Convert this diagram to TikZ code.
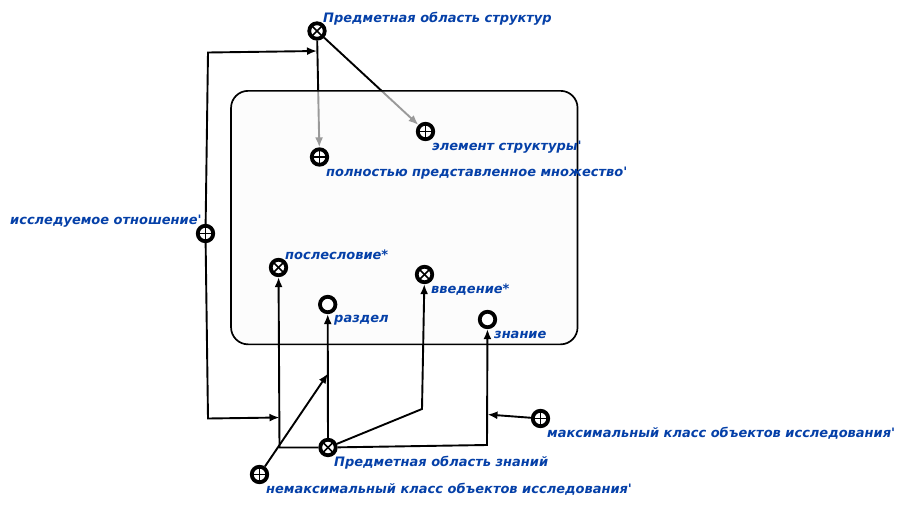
\documentclass[tikz,border=0pt]{standalone}
\usepackage{fontspec}
\setmainfont{DejaVu Sans}[Ligatures=TeXOff]
\usepackage{xcolor}
\usepackage{tikz}
\usetikzlibrary{arrows.meta}
\definecolor{labelblue}{HTML}{0540A8}
\pgfdeclarelayer{behind}
\pgfdeclarelayer{boxlayer}
\pgfsetlayers{behind,boxlayer,main}
\tikzset{
	arc line/.style={line width=1.9pt, -{Latex[length=10pt,width=8pt]}},
	region/.style={draw=black, line width=1.7pt, rounded corners=17pt, minimum width=346.5pt, minimum height=253.5pt, inner sep=0pt, fill=black!2, fill opacity=.62, draw opacity=1},
	vertex/.style={circle, draw=black, fill=white, line width=3.8pt, minimum size=15.5pt, inner sep=0pt},
	vplus/.style={vertex, path picture={
		\draw[line width=1.5pt] (path picture bounding box.north) -- (path picture bounding box.south);
		\draw[line width=1.5pt] (path picture bounding box.west) -- (path picture bounding box.east);}},
	vcross/.style={vertex, path picture={
		\draw[line width=1.6pt] (path picture bounding box.north west) -- (path picture bounding box.south east);
		\draw[line width=1.6pt] (path picture bounding box.north east) -- (path picture bounding box.south west);}},
	caption/.style={anchor=west, inner sep=0pt, text=labelblue, font=\fontsize{13pt}{15pt}\selectfont\bfseries\itshape}
}
\begin{document}
\begin{tikzpicture}[x=1pt,y=-1pt]
	\useasboundingbox (0,0) rectangle (903,506);
	% vertices
	\node[vcross] (structdomain) at (317,31) {};
	\node[vplus] (structelem) at (425.5,131.5) {};
	\node[vplus] (fullset) at (319.5,157) {};
	\node[vplus] (studiedrel) at (205.5,233.5) {};
	\node[vcross] (afterword) at (278.5,267.5) {};
	\node[vcross] (intro) at (424.5,274.5) {};
	\node[vertex] (section) at (327.7,304.5) {};
	\node[vertex] (knowledge) at (487.5,319.5) {};
	\node[vplus] (maxclass) at (540.5,418.5) {};
	\node[vcross] (knowdomain) at (328,447.5) {};
	\node[vplus] (nonmaxclass) at (259.5,474.5) {};
	% captions
	\node[caption] (structdomaintext) at (323,18.8) {Предметная область структур};
	\node[caption] (structelemtext) at (432,146.8) {элемент структуры'};
	\node[caption] (fullsettext) at (326,172.8) {полностью представленное множество'};
	\node[caption] (studiedreltext) at (10,220.8) {исследуемое отношение'};
	\node[caption] (afterwordtext) at (285,254.5) {послесловие*};
	\node[caption] (introtext) at (431,289.8) {введение*};
	\node[caption] (sectiontext) at (334,319.8) {раздел};
	\node[caption] (knowledgetext) at (494,334.5) {знание};
	\node[caption] (maxclasstext) at (547,433.5) {максимальный класс объектов исследования'};
	\node[caption] (knowdomaintext) at (334,462.8) {Предметная область знаний};
	\node[caption] (nonmaxclasstext) at (266,489.5) {немаксимальный класс объектов исследования'};
	% box over the two upper arcs
	\begin{pgfonlayer}{boxlayer}
		\node[region] (regionbox) at (404.3,217.6) {};
	\end{pgfonlayer}
	\begin{pgfonlayer}{behind}
		\draw[arc line] (structdomain) -- (fullset);
		\draw[arc line] (structdomain) -- (structelem);
	\end{pgfonlayer}
	% arcs
	\coordinate (upperbend) at (208,52.5);
	\coordinate (upperend) at (317,51);
	\coordinate (lowerbend) at (208,418.5);
	\coordinate (busleft) at (279.5,447.5);
	\coordinate (lowerend) at (279.5,417.5);
	\coordinate (sectionjoin) at (328,373.5);
	\coordinate (introbend) at (422,409);
	\coordinate (knowbend) at (487,445);
	\coordinate (knowjoin) at (487.5,414.5);
	\draw[arc line] (studiedrel) -- (upperbend) -- (upperend);
	\draw[arc line] (studiedrel) -- (lowerbend) -- (lowerend);
	\draw[arc line] (knowdomain) -- (busleft) -- (afterword);
	\draw[arc line] (knowdomain) -- (section);
	\draw[arc line] (knowdomain) -- (introbend) -- (intro);
	\draw[arc line] (knowdomain) -- (knowbend) -- (knowledge);
	\draw[arc line] (nonmaxclass) -- (sectionjoin);
	\draw[arc line] (maxclass) -- (knowjoin);
\end{tikzpicture}
\end{document}
